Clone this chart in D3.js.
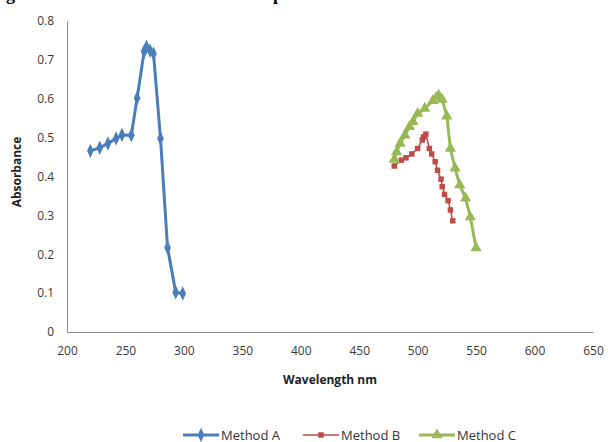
<!DOCTYPE html>
<html>
<head>
<meta charset="utf-8">
<script src="https://cdn.jsdelivr.net/npm/d3@7"></script>
<style>
  body { margin: 0; background: #fff; }
  svg { display: block; }
  .tick text { font-family: "Open Sans", sans-serif; font-size: 12px; fill: #3a3a3a; }
  .axisTitle { font-family: "Open Sans", sans-serif; font-size: 12px; font-weight: bold; fill: #222; }
  .legendText { font-family: "Open Sans", sans-serif; font-size: 13px; fill: #333; }
</style>
</head>
<body>
<div id="chart"></div>
<script>
// Absorbance spectra, three methods

// Data
// ==============================
var methodA = [
  [220, 0.466], [228, 0.474], [235, 0.485], [242, 0.498], [247, 0.507],
  [255, 0.506], [260, 0.602], [266, 0.722], [268, 0.733], [271, 0.724],
  [274, 0.716], [280, 0.498], [286, 0.217], [293, 0.102], [299, 0.099]
];
var methodB = [
  [480, 0.427], [486, 0.442], [490, 0.448], [495, 0.458], [500, 0.472],
  [504, 0.494], [505, 0.502], [507, 0.509], [510, 0.472], [512, 0.458],
  [515, 0.438], [517, 0.416], [520, 0.393], [521, 0.374], [523, 0.354],
  [526, 0.338], [528, 0.314], [530, 0.286]
];
var methodC = [
  [480, 0.444], [482, 0.463], [485, 0.485], [489, 0.506], [493, 0.528],
  [496, 0.541], [500, 0.562], [506, 0.575], [513, 0.595], [516, 0.603],
  [518, 0.609], [521, 0.598], [525, 0.555], [528, 0.472], [532, 0.421],
  [536, 0.378], [541, 0.344], [545, 0.296], [550, 0.216]
];
var xTicks = [200, 250, 300, 350, 400, 450, 500, 550, 600, 650];
var yTicks = [0, 0.1, 0.2, 0.3, 0.4, 0.5, 0.6, 0.7, 0.8];
var seriesNames = ["Method A", "Method B", "Method C"];

// Housekeeping
// ==============================
var width = 608;
var height = 442;
var plotLeft = 67, plotRight = 593, plotTop = 21, plotBottom = 332;

var svg = d3.select("#chart").append("svg")
    .attr("width", width)
    .attr("height", height);

// cut-off caption at the top of the page
svg.append("text")
    .attr("x", 15).attr("y", 0)
    .attr("text-anchor", "end")
    .attr("font-family", "Liberation Serif, serif")
    .attr("font-weight", "bold")
    .attr("font-size", 18)
    .text("Fig");
svg.append("text")
    .attr("x", 266).attr("y", 0)
    .attr("font-family", "Liberation Serif, serif")
    .attr("font-weight", "bold")
    .attr("font-size", 18)
    .text("spectra");

var xScale = d3.scaleLinear().domain([200, 650]).range([plotLeft, plotRight]);
var yScale = d3.scaleLinear().domain([0, 0.8]).range([plotBottom, plotTop]);

// Axes
var xAxis = d3.axisBottom(xScale).tickValues(xTicks).tickSize(0).tickPadding(14);
var yAxis = d3.axisLeft(yScale).tickValues(yTicks).tickSize(0).tickPadding(13)
    .tickFormat(function(d) { return d === 0 ? "0" : d3.format(".1f")(d); });

var gx = svg.append("g")
    .attr("transform", "translate(0," + plotBottom + ")")
    .call(xAxis);
var gy = svg.append("g")
    .attr("transform", "translate(" + plotLeft + ",0)")
    .call(yAxis);
gx.select(".domain").attr("stroke", "#8c8c8c");
gy.select(".domain").attr("stroke", "#8c8c8c");

svg.append("text")
    .attr("class", "axisTitle")
    .attr("x", (plotLeft + plotRight) / 2)
    .attr("y", 384)
    .attr("text-anchor", "middle")
    .text("Wavelength nm");

svg.append("text")
    .attr("class", "axisTitle")
    .attr("transform", "translate(21," + 172 + ")rotate(-90)")
    .attr("text-anchor", "middle")
    .text("Absorbance");

// Series
// ==============================
var styles = [
  { color: "#4a7ebb", width: 3, marker: "diamond", size: 60 },
  { color: "#be4b48", width: 1.5, marker: "square", size: 30 },
  { color: "#98b954", width: 3, marker: "triangle", size: 55 }
];
var symbols = {
  diamond: d3.symbolDiamond,
  square: d3.symbolSquare,
  triangle: d3.symbolTriangle
};

var line = d3.line()
    .x(function(d) { return xScale(d[0]); })
    .y(function(d) { return yScale(d[1]); });

[methodA, methodB, methodC].forEach(function(data, i) {
  var st = styles[i];
  svg.append("path")
      .datum(data)
      .attr("d", line)
      .attr("fill", "none")
      .attr("stroke", st.color)
      .attr("stroke-width", st.width)
      .attr("stroke-linejoin", "round");

  var sym = d3.symbol().type(symbols[st.marker]).size(st.size);
  svg.selectAll(".m" + i)
      .data(data)
      .enter()
      .append("path")
      .attr("class", "m" + i)
      .attr("d", sym)
      .attr("transform", function(d) {
        return "translate(" + xScale(d[0]) + "," + yScale(d[1]) + ")" +
          (st.marker === "diamond" ? "scale(0.8,1)" : "");
      })
      .attr("fill", st.color);
});

// Legend
// ==============================
var legendX = [183, 303, 419];
var legendY = 435;
seriesNames.forEach(function(name, i) {
  var st = styles[i];
  var g = svg.append("g").attr("transform", "translate(" + legendX[i] + "," + legendY + ")");
  g.append("line")
      .attr("x1", 0).attr("x2", 36)
      .attr("y1", 0).attr("y2", 0)
      .attr("stroke", st.color)
      .attr("stroke-width", st.width);
  g.append("path")
      .attr("d", d3.symbol().type(symbols[st.marker]).size(st.size)())
      .attr("transform", "translate(18,0)" + (st.marker === "diamond" ? "scale(0.8,1)" : ""))
      .attr("fill", st.color);
  g.append("text")
      .attr("class", "legendText")
      .attr("x", 38)
      .attr("y", 4.5)
      .text(name);
});
</script>
</body>
</html>
